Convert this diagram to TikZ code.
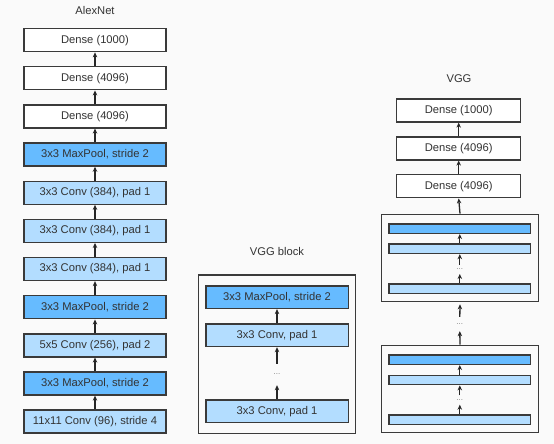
\documentclass[tikz,border=0pt]{standalone}
\usepackage{fontspec}
\setmainfont{Liberation Sans}
\usetikzlibrary{arrows.meta}
\definecolor{bg}{HTML}{FAFAFA}
\definecolor{edge}{HTML}{3A3A3A}
\definecolor{poolc}{HTML}{66BBFF}
\definecolor{convc}{HTML}{B3DDFF}
\tikzset{
  layer/.style={draw=edge,line width=1.3pt,minimum height=23pt,inner sep=0pt,font=\fontsize{11.2}{13}\selectfont,text=black!80},
  dense/.style={layer,fill=white},
  pool/.style={layer,fill=poolc},
  conv/.style={layer,fill=convc},
  thin/.style={draw=edge,line width=1.3pt,minimum height=9.5pt,minimum width=141.7pt,inner sep=0pt},
  frame/.style={draw=edge,line width=1.3pt,fill=none,inner sep=0pt},
  arr/.style={-{Stealth[length=5pt,width=4.5pt]},line width=1.3pt,draw=black!85},
  dotsn/.style={text=gray,font=\fontsize{8}{8}\selectfont,inner sep=0pt},
  title/.style={font=\fontsize{11.2}{13}\selectfont,text=black!80}
}
\begin{document}
\begin{tikzpicture}[x=1pt,y=-1pt]
\fill[bg] (0,0) rectangle (554,444);
\useasboundingbox (0,0) rectangle (554,444);
% AlexNet
\node[title] (atitle) at (95,10) {AlexNet};
\node[dense,minimum width=142pt] (a1) at (95,40.2) {Dense (1000)};
\node[dense,minimum width=142pt] (a2) at (95,78.3) {Dense (4096)};
\node[dense,minimum width=142pt] (a3) at (95,116.4) {Dense (4096)};
\node[pool,minimum width=142pt] (a4) at (95,154.6) {3x3 MaxPool, stride 2};
\node[conv,minimum width=142pt] (a5) at (95,192.7) {3x3 Conv (384), pad 1};
\node[conv,minimum width=142pt] (a6) at (95,230.8) {3x3 Conv (384), pad 1};
\node[conv,minimum width=142pt] (a7) at (95,269.0) {3x3 Conv (384), pad 1};
\node[pool,minimum width=142pt] (a8) at (95,307.3) {3x3 MaxPool, stride 2};
\node[conv,minimum width=142pt] (a9) at (95,345.4) {5x5 Conv (256), pad 2};
\node[pool,minimum width=142pt] (a10) at (95,383.5) {3x3 MaxPool, stride 2};
\node[conv,minimum width=142pt] (a11) at (95,421.6) {11x11 Conv (96), stride 4};
\foreach \i/\j in {2/1,3/2,4/3,5/4,6/5,7/6,8/7,9/8,10/9,11/10}
  \draw[arr] (a\i.north) -- (a\j.south);
% VGG block
\node[title] (btitle) at (277,251) {VGG block};
\node[frame,minimum width=157.4pt,minimum height=158.3pt] (bf) at (277,354.2) {};
\node[pool,minimum width=142.3pt,minimum height=22.5pt] (b1) at (277,297.2) {3x3 MaxPool, stride 2};
\node[conv,minimum width=142.3pt,minimum height=22.5pt] (b2) at (277,335.3) {3x3 Conv, pad 1};
\node[dotsn,minimum height=21pt] (bd) at (277,374.5) {...};
\node[conv,minimum width=142.3pt,minimum height=22.5pt] (b3) at (277,411.3) {3x3 Conv, pad 1};
\draw[arr] (b2.north) -- (b1.south);
\draw[arr] (bd.north) -- (b2.south);
\draw[arr] (b3.north) -- (bd.south);
% VGG
\node[title] (vtitle) at (459,79) {VGG};
\node[dense,minimum width=124pt] (v1) at (458.7,110.5) {Dense (1000)};
\node[dense,minimum width=124pt] (v2) at (458.7,148.4) {Dense (4096)};
\node[dense,minimum width=124pt] (v3) at (458.7,186.3) {Dense (4096)};
% block 1
\node[frame,minimum width=156.6pt,minimum height=87.4pt] (f1) at (460,258) {};
\node[thin,fill=poolc] (p1) at (459.8,228.7) {};
\node[thin,fill=convc] (c1) at (459.8,248.8) {};
\node[dotsn,minimum height=9pt] (d1) at (459.8,269.3) {...};
\node[thin,fill=convc] (e1) at (459.8,288.8) {};
% dots between blocks
\node[dotsn,minimum height=14pt] (dm) at (459.8,324) {...};
% block 2
\node[frame,minimum width=156.6pt,minimum height=87.4pt] (f2) at (460,389) {};
\node[thin,fill=poolc] (p2) at (459.8,359.7) {};
\node[thin,fill=convc] (c2) at (459.8,380.0) {};
\node[dotsn,minimum height=9pt] (d2) at (459.8,400) {...};
\node[thin,fill=convc] (e2) at (459.8,419.7) {};
\draw[arr] (v2.north) -- (v1.south);
\draw[arr] (v3.north) -- (v2.south);
\draw[arr] (f1.north) -- (v3.south);
\draw[arr] (c1.north) -- (p1.south);
\draw[arr] (d1.north) -- (c1.south);
\draw[arr] (e1.north) -- (d1.south);
\draw[arr] (dm.north) -- ([yshift=-2pt]f1.south);
\draw[arr] (f2.north) -- (dm.south);
\draw[arr] (c2.north) -- (p2.south);
\draw[arr] (d2.north) -- (c2.south);
\draw[arr] (e2.north) -- (d2.south);
\end{tikzpicture}
\end{document}
